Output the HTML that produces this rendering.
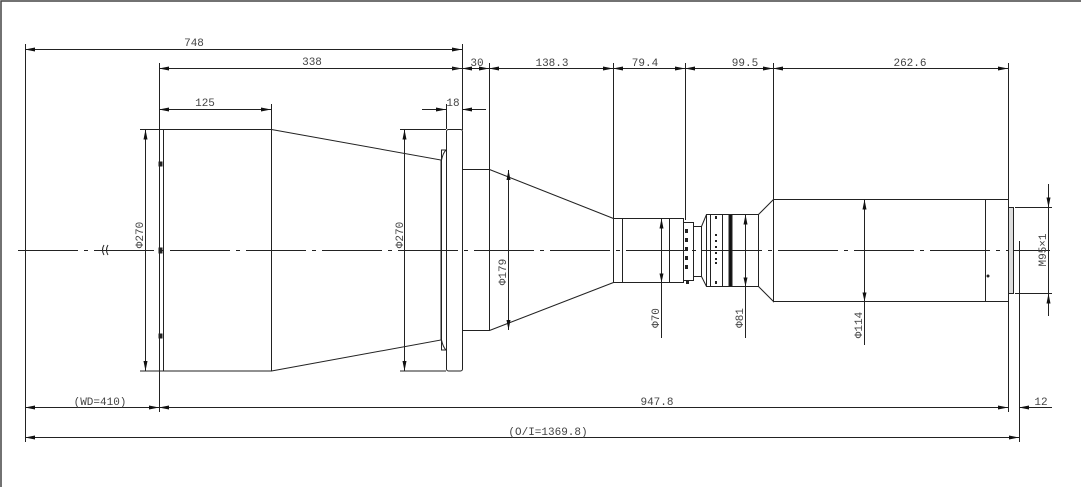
<!DOCTYPE html>
<html><head><meta charset="utf-8"><style>
html,body{margin:0;padding:0;background:#fff;width:1081px;height:487px;overflow:hidden}
svg{display:block}
text{font-family:"Liberation Mono","DejaVu Sans Mono",monospace;font-size:11px;fill:#444}
</style></head><body>
<svg width="1081" height="487" viewBox="0 0 1081 487" xmlns="http://www.w3.org/2000/svg">
<defs>
<marker id="a" viewBox="0 0 10 4" refX="10" refY="2" markerWidth="10" markerHeight="4" markerUnits="userSpaceOnUse" orient="auto-start-reverse"><path d="M0,0 L10,2 L0,4z" fill="#111"/></marker>
</defs>
<path d="M1,487 V1 H1081" stroke="#444" stroke-width="1.5" fill="none"/>
<g stroke="#222" stroke-width="1" fill="none">
<!-- centerline -->
<line x1="18" y1="250.5" x2="1050" y2="250.5" stroke-dasharray="60,6,4,6"/>
<!-- extension lines -->
<line x1="25.5" y1="44" x2="25.5" y2="442"/>
<line x1="159.5" y1="63" x2="159.5" y2="412"/>
<line x1="462.5" y1="44" x2="462.5" y2="130"/>
<line x1="489.5" y1="63" x2="489.5" y2="170"/>
<line x1="613.5" y1="63" x2="613.5" y2="218"/>
<line x1="685.5" y1="63" x2="685.5" y2="220"/>
<line x1="773.5" y1="63" x2="773.5" y2="199"/>
<line x1="1008.5" y1="63" x2="1008.5" y2="200"/>
<line x1="1008.5" y1="300" x2="1008.5" y2="412"/>
<line x1="1019.5" y1="241" x2="1019.5" y2="442"/>
<line x1="271.5" y1="104" x2="271.5" y2="129"/>
<line x1="446.5" y1="104" x2="446.5" y2="129"/>
<!-- top dims -->
<line x1="25" y1="49.5" x2="462" y2="49.5" marker-start="url(#a)" marker-end="url(#a)"/>
<line x1="159" y1="68.5" x2="462" y2="68.5" marker-start="url(#a)" marker-end="url(#a)"/>
<line x1="462" y1="68.5" x2="448" y2="68.5"/>
<line x1="462" y1="68.5" x2="489" y2="68.5" marker-start="url(#a)" marker-end="url(#a)"/>
<line x1="489" y1="68.5" x2="613" y2="68.5" marker-start="url(#a)" marker-end="url(#a)"/>
<line x1="613" y1="68.5" x2="685" y2="68.5" marker-start="url(#a)" marker-end="url(#a)"/>
<line x1="685" y1="68.5" x2="773" y2="68.5" marker-start="url(#a)" marker-end="url(#a)"/>
<line x1="773" y1="68.5" x2="1008" y2="68.5" marker-start="url(#a)" marker-end="url(#a)"/>
<line x1="159" y1="109.5" x2="271" y2="109.5" marker-start="url(#a)" marker-end="url(#a)"/>
<line x1="422" y1="109.5" x2="446" y2="109.5" marker-end="url(#a)"/>
<line x1="486" y1="109.5" x2="462" y2="109.5" marker-end="url(#a)"/>
<!-- front section -->
<rect x="159.5" y="129.5" width="4" height="241.5"/>
<rect x="163.5" y="129.5" width="108" height="241.5"/>
<path d="M271.5,129.5 L441,160 L441,340 L271.5,371"/>
<line x1="441" y1="160" x2="441" y2="340"/>
<rect x="441.5" y="150" width="5" height="200"/>
<path d="M441.5,160 Q443,153 446,150 M441.5,340 Q443,347 446,350"/>
<rect x="446.5" y="129.5" width="16" height="241.5" rx="2"/>
<rect x="159" y="162" width="3" height="4" fill="#222"/>
<rect x="159" y="248" width="3" height="5" fill="#222"/>
<rect x="159" y="334" width="3" height="4" fill="#222"/>
<!-- dia 270 -->
<line x1="140" y1="129.5" x2="159" y2="129.5"/>
<line x1="140" y1="371" x2="159" y2="371"/>
<line x1="145.5" y1="129.5" x2="145.5" y2="371" marker-start="url(#a)" marker-end="url(#a)"/>
<line x1="400" y1="129.5" x2="446" y2="129.5"/>
<line x1="400" y1="371" x2="446" y2="371"/>
<line x1="404.5" y1="129.5" x2="404.5" y2="371" marker-start="url(#a)" marker-end="url(#a)"/>
<path d="M104,245 q-3,5 0,10 M108,245 q-3,5 0,10"/>
<!-- tube & cone -->
<rect x="462.5" y="169.5" width="27" height="161"/>
<path d="M489.5,169.5 L613.5,218.5 M489.5,330.5 L613.5,282.5"/>
<line x1="508.5" y1="170" x2="508.5" y2="330" marker-start="url(#a)" marker-end="url(#a)"/>
<!-- small cylinder -->
<rect x="613.5" y="218.5" width="70" height="64"/>
<line x1="622.5" y1="218.5" x2="622.5" y2="282.5"/>
<line x1="669.5" y1="218.5" x2="669.5" y2="282.5"/>
<line x1="661.5" y1="218.5" x2="661.5" y2="338" marker-start="url(#a)"/>
<path d="M661.5,282.5 l-2,-9 h4z" fill="#111" stroke="none"/>
<rect x="683.5" y="222.5" width="10" height="58"/>
<rect x="693.5" y="226.5" width="8" height="50"/>
<g fill="#222" stroke="none">
<rect x="685" y="229" width="3" height="4"/><rect x="685" y="238" width="3" height="4"/><rect x="685" y="247" width="3" height="4"/><rect x="685" y="256" width="3" height="4"/><rect x="685" y="265" width="3" height="4"/><rect x="686" y="280" width="3" height="4"/>
</g>
<!-- second body -->
<path d="M701.5,226.5 L706.5,214.5 L758.5,214.5 L773.5,199.5 L773.5,301.5 L758.5,286.5 L706.5,286.5 L701.5,276.5"/>
<line x1="706.5" y1="214.5" x2="706.5" y2="286.5"/>
<line x1="710.5" y1="214.5" x2="710.5" y2="286.5"/>
<line x1="722.5" y1="214.5" x2="722.5" y2="286.5"/>
<rect x="729" y="214.5" width="3" height="72" fill="#111"/>
<line x1="758.5" y1="214.5" x2="758.5" y2="286.5"/>
<g fill="#222" stroke="none">
<rect x="715" y="216" width="2" height="3"/><rect x="715" y="234" width="2" height="2"/><rect x="715" y="240" width="2" height="2"/><rect x="715" y="246" width="2" height="2"/><rect x="715" y="252" width="2" height="2"/><rect x="715" y="258" width="2" height="2"/><rect x="715" y="262" width="2" height="2"/><rect x="715" y="281" width="2" height="3"/>
</g>
<line x1="745.5" y1="214.5" x2="745.5" y2="338" marker-start="url(#a)"/>
<path d="M745.5,286.5 l-2,-9 h4z" fill="#111" stroke="none"/>
<!-- big cylinder -->
<rect x="773.5" y="199.5" width="235" height="102"/>
<line x1="985.5" y1="199.5" x2="985.5" y2="301.5"/>
<rect x="1008.5" y="207.5" width="5" height="86" fill="#ddd"/>
<circle cx="988" cy="276" r="1" fill="#222"/>
<line x1="864.5" y1="199.5" x2="864.5" y2="345" marker-start="url(#a)"/>
<path d="M864.5,301.5 l-2,-9 h4z" fill="#111" stroke="none"/>
<!-- M95 -->
<line x1="1015" y1="207.5" x2="1052" y2="207.5"/>
<line x1="1015" y1="293.5" x2="1052" y2="293.5"/>
<line x1="1048.5" y1="184" x2="1048.5" y2="207.5" marker-end="url(#a)"/>
<line x1="1048.5" y1="316" x2="1048.5" y2="293.5" marker-end="url(#a)"/>
<line x1="1048.5" y1="207.5" x2="1048.5" y2="293.5"/>
<!-- bottom dims -->
<line x1="25" y1="407.5" x2="159" y2="407.5" marker-start="url(#a)" marker-end="url(#a)"/>
<line x1="159" y1="407.5" x2="1008" y2="407.5" marker-start="url(#a)" marker-end="url(#a)"/>
<line x1="1052" y1="407.5" x2="1019" y2="407.5" marker-end="url(#a)"/>
<line x1="25" y1="437.5" x2="1019" y2="437.5" marker-start="url(#a)" marker-end="url(#a)"/>
</g>
<text x="194" y="46" text-anchor="middle">748</text>
<text x="312" y="65" text-anchor="middle">338</text>
<text x="477" y="66" text-anchor="middle">30</text>
<text x="552" y="66" text-anchor="middle">138.3</text>
<text x="645" y="66" text-anchor="middle">79.4</text>
<text x="745" y="66" text-anchor="middle">99.5</text>
<text x="910" y="66" text-anchor="middle">262.6</text>
<text x="205" y="106" text-anchor="middle">125</text>
<text x="453" y="106" text-anchor="middle">18</text>
<text x="100" y="405" text-anchor="middle">(WD=410)</text>
<text x="657" y="405" text-anchor="middle">947.8</text>
<text x="1041" y="405" text-anchor="middle">12</text>
<text x="548" y="435" text-anchor="middle">(O/I=1369.8)</text>
<text transform="translate(143,235) rotate(-90)" text-anchor="middle">Φ270</text>
<text transform="translate(403,235) rotate(-90)" text-anchor="middle">Φ270</text>
<text transform="translate(506,272) rotate(-90)" text-anchor="middle">Φ179</text>
<text transform="translate(659,318) rotate(-90)" text-anchor="middle">Φ70</text>
<text transform="translate(743,318) rotate(-90)" text-anchor="middle">Φ81</text>
<text transform="translate(862,325) rotate(-90)" text-anchor="middle">Φ114</text>
<text transform="translate(1046,250) rotate(-90)" text-anchor="middle">M95×1</text>
</svg>
</body></html>
